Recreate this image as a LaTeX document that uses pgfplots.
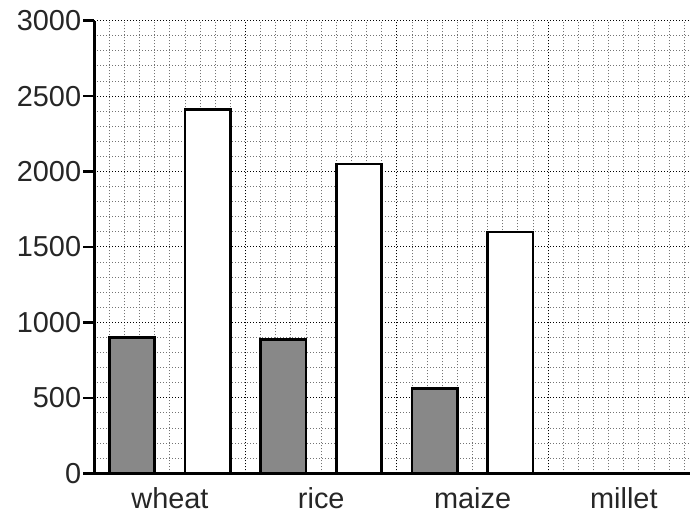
\documentclass[border=0pt]{standalone}
\usepackage{pgfplots}
\pgfplotsset{compat=1.18}
\usepackage{fontspec}
\setmainfont{Liberation Sans}
\definecolor{bargray}{RGB}{136,136,136}
\begin{document}
\begin{tikzpicture}
\useasboundingbox (0,0) rectangle (690bp,516bp);
\begin{axis}[
  at={(94.3bp,42.7bp)}, anchor=south west,
  scale only axis, width=605.2bp, height=452.6bp,
  xmin=-0.5, xmax=3.5, ymin=0, ymax=3000,
  axis x line*=bottom, axis y line*=left,
  axis line style={line width=3bp, black},
  xtick={0,1,2,3}, xticklabels={wheat,rice,maize,millet},
  ytick={0,500,1000,1500,2000,2500,3000},
  minor xtick={-0.4,-0.3,...,3.45},
  minor ytick={100,200,300,400,600,700,800,900,1100,1200,1300,1400,1600,1700,1800,1900,2100,2200,2300,2400,2600,2700,2800,2900},
  xmajorgrids=false, ymajorgrids=true, xminorgrids=true, yminorgrids=true,
  extra x ticks={0.5,1.5,2.5}, extra x tick labels={},
  extra x tick style={grid=major, tick style={draw=none}},
  major grid style={black, line width=1bp, dash pattern=on 1bp off 2bp},
  minor grid style={black!55, line width=1bp, dash pattern=on 1bp off 2bp},
  tick align=outside,
  xtick style={draw=none},
  ytick style={line width=2.5bp, black},
  major tick length=11bp, minor tick length=0pt,
  ticklabel style={font=\fontsize{29}{34}\selectfont, text=black!85},
  /pgf/number format/assume math mode=true,
  /pgf/number format/1000 sep={},
  xticklabel shift=0bp,
  yticklabel style={inner sep=2bp},
  clip=false,
]
\addplot[ybar, bar width=0.3, bar shift=0pt, fill=bargray, draw=black, line width=2.7bp]
  coordinates {(-0.25,900) (0.75,885) (1.75,560)};
\addplot[ybar, bar width=0.3, bar shift=0pt, fill=white, draw=black, line width=2.7bp]
  coordinates {(0.25,2410) (1.25,2050) (2.25,1600)};
\end{axis}
\end{tikzpicture}
\end{document}
